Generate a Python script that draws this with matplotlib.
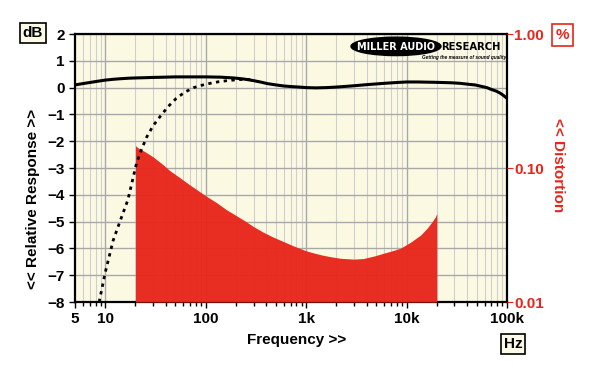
import numpy as np
import matplotlib
matplotlib.use("Agg")
import matplotlib.pyplot as plt
from matplotlib.patches import Ellipse
from matplotlib.ticker import FixedLocator, NullFormatter, FixedFormatter

plt.rcParams["font.family"] = ["Liberation Sans", "DejaVu Sans"]
plt.rcParams["font.weight"] = "bold"

# ---- data ----
resp_freq = [5, 6, 7, 8.5, 10, 12, 14, 17, 20, 25, 30, 40, 50, 70, 100, 140,
             190, 240, 300, 360, 410, 500, 600, 700, 850, 1000, 1250, 1600,
             2000, 2800, 4000, 6000, 8000, 10000, 13000, 18000, 23000, 28000,
             34000, 40000, 48000, 55000, 63000, 70000, 78000, 85000, 92000,
             100000]
resp_db = [0.10, 0.15, 0.19, 0.24, 0.28, 0.31, 0.33, 0.35, 0.36, 0.37, 0.38,
           0.39, 0.40, 0.40, 0.40, 0.39, 0.36, 0.32, 0.26, 0.20, 0.15, 0.10,
           0.06, 0.04, 0.02, 0.00, -0.01, 0.00, 0.02, 0.06, 0.11, 0.16, 0.19,
           0.21, 0.21, 0.20, 0.19, 0.18, 0.16, 0.13, 0.10, 0.05, 0.00, -0.07,
           -0.13, -0.20, -0.29, -0.40]

lf_freq = [8.7, 10, 12, 14, 16.8, 20.5, 23, 26, 30, 35, 42, 51, 62, 76, 92,
           111, 135, 165, 200, 240, 290]
lf_db = [-8.0, -6.9, -5.7, -5.0, -4.19, -2.82, -2.30, -1.83, -1.42, -1.09,
         -0.72, -0.40, -0.17, 0.00, 0.09, 0.16, 0.22, 0.26, 0.29, 0.31, 0.30]

thd_freq = [20, 21, 25, 30, 37, 44, 55, 70, 85, 100, 130, 160, 205, 250, 300,
            380, 470, 600, 750, 1000, 1200, 1450, 1740, 2200, 3000, 3700, 4700,
            6000, 7300, 8700, 11000, 13800, 16000, 18000, 19400, 20000]
thd_pct = [0.147, 0.142, 0.132, 0.121, 0.107, 0.0955, 0.0850, 0.0745, 0.0675,
           0.0621, 0.0548, 0.0490, 0.0438, 0.0400, 0.0365, 0.0330, 0.0305,
           0.0282, 0.0262, 0.0241, 0.0232, 0.0224, 0.0218, 0.0212, 0.0209,
           0.0211, 0.0220, 0.0232, 0.0242, 0.0252, 0.0280, 0.0316, 0.0355,
           0.0398, 0.0433, 0.0459]

db_ticks = list(range(-8, 3))
freq_ticks = [5, 10, 100, 1000, 10000, 100000]
freq_labels = ["5", "10", "100", "1k", "10k", "100k"]
pct_ticks = [0.01, 0.1, 1.0]
pct_labels = ["0.01", "0.10", "1.00"]

RED = "#e8251a"
CREAM = "#fcf9e3"

fig = plt.figure(figsize=(6.0, 3.68), dpi=100)
ax = fig.add_axes([0.125, 0.1793, 0.72, 0.7283])
ax.set_facecolor(CREAM)
ax.set_xscale("log")

# distortion on a log twin axis
ax2 = ax.twinx()
ax2.set_yscale("log")
ax2.set_ylim(0.01, 1.0)
ax2.fill_between(thd_freq, 0.01, thd_pct, color=RED, alpha=0.96, lw=0,
                 zorder=1)
ax2.set_yticks(pct_ticks)
ax2.set_yticklabels(pct_labels)
ax2.yaxis.set_minor_locator(FixedLocator([]))
ax2.tick_params(axis="y", labelsize=11, length=4, colors=RED, pad=1)
for lab in ax2.get_yticklabels():
    lab.set_fontweight("bold")
for s in ax2.spines.values():
    s.set_visible(False)

# response curves drawn on top
ax3 = ax.twinx()
ax3.set_ylim(-8, 2)
ax3.axis("off")
ax3.plot(lf_freq, lf_db, color="black", lw=2.0, ls=(0, (1.2, 1.6)))
ax3.plot(resp_freq, resp_db, color="black", lw=2.2)

ax.set_xlim(5, 100000)
ax.set_ylim(-8, 2)

minor = [m * 10 ** d for d in range(0, 6) for m in range(2, 10)
         if 5 < m * 10 ** d < 100000]
for f in minor:
    ax.axvline(f, color="#cfcfcf", lw=0.8, zorder=0)
for f in [10, 100, 1000, 10000]:
    ax.axvline(f, color="#a8a8a8", lw=1.0, zorder=0)
for d in db_ticks:
    ax.axhline(d, color="#a8a8a8", lw=1.0, zorder=0)

ax.set_yticks(db_ticks)
ax.xaxis.set_major_locator(FixedLocator(freq_ticks))
ax.xaxis.set_major_formatter(FixedFormatter(freq_labels))
ax.xaxis.set_minor_locator(FixedLocator(minor))
ax.xaxis.set_minor_formatter(NullFormatter())
ax.tick_params(axis="both", which="major", labelsize=11, length=4, width=1,
               direction="out")
ax.tick_params(axis="x", which="minor", length=3, width=1)
for lab in ax.get_xticklabels() + ax.get_yticklabels():
    lab.set_fontweight("bold")
for s in ax.spines.values():
    s.set_linewidth(1.6)
    s.set_zorder(10)

# axis labels
fig.text(0.055, 0.46, "<< Relative Response >>", rotation=90, ha="center",
         va="center", fontsize=11, fontweight="bold")
fig.text(0.93, 0.55, "<< Distortion", rotation=-90, ha="center",
         va="center", fontsize=11, fontweight="bold", color=RED)
fig.text(0.495, 0.077, "Frequency >>", ha="center", va="center",
         fontsize=11, fontweight="bold")

box = dict(boxstyle="square,pad=0.2", fc="#fdfbe8", ec="black", lw=1.2)
fig.text(0.055, 0.91, "dB", ha="center", va="center", fontsize=11,
         fontweight="bold", bbox=box)
fig.text(0.855, 0.065, "Hz", ha="center", va="center", fontsize=11,
         fontweight="bold", bbox=box)
fig.text(0.938, 0.905, "%", ha="center", va="center", fontsize=11,
         color=RED, bbox=dict(boxstyle="square,pad=0.25", fc="white",
                              ec=RED, lw=1.2))

# logo
logo = Ellipse((0.66, 0.874), 0.15, 0.05, transform=fig.transFigure,
               color="black", zorder=5)
fig.add_artist(logo)
fig.text(0.66, 0.873, "MILLER AUDIO", ha="center", va="center",
         fontsize=7, fontweight="heavy", color="white", zorder=6,
         family="DejaVu Sans")
fig.text(0.735, 0.873, "RESEARCH", ha="left", va="center",
         fontsize=7.2, fontweight="heavy", color="black", zorder=6,
         family="DejaVu Sans")
fig.text(0.843, 0.843, "Getting the measure of sound quality", ha="right",
         va="center", fontsize=3.4, fontstyle="italic", color="black",
         zorder=6)

fig.savefig("out.png", dpi=100)
